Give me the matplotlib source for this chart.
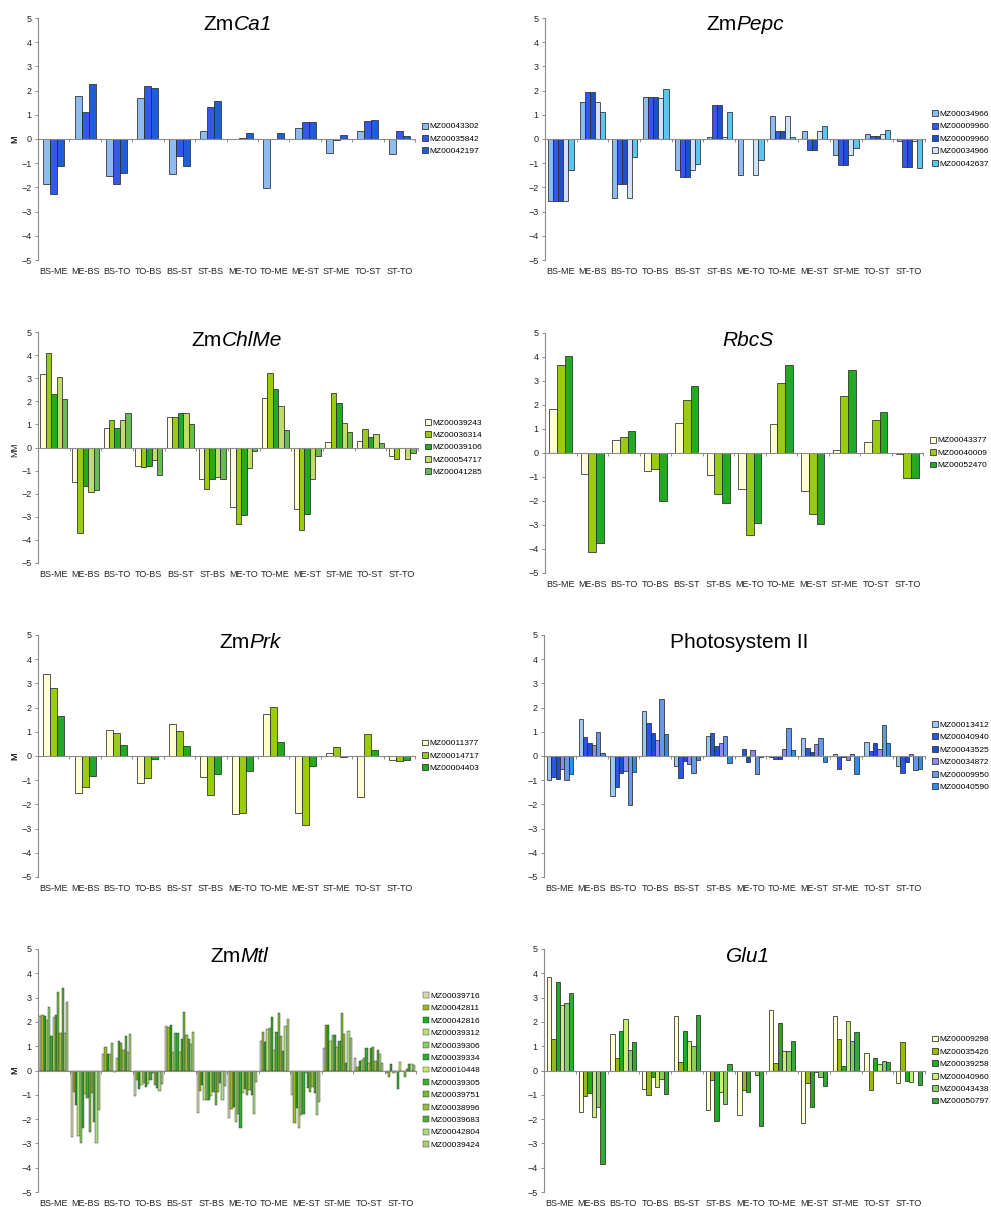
import numpy as np
import matplotlib
matplotlib.use("Agg")
import matplotlib.pyplot as plt
from matplotlib.offsetbox import TextArea, HPacker, AnnotationBbox

plt.rcParams["font.family"] = ["Liberation Sans", "DejaVu Sans"]

categories = ["BS-ME", "ME-BS", "BS-TO", "TO-BS", "BS-ST", "ST-BS",
              "ME-TO", "TO-ME", "ME-ST", "ST-ME", "TO-ST", "ST-TO"]

# ZmCa1
ca1_ids = ["MZ00043302", "MZ00035842", "MZ00042197"]
ca1_values = [
    [-1.86, 1.77, -1.54, 1.70, -1.45, 0.32, 0.02, -2.04, 0.46, -0.58, 0.32, -0.62],
    [-2.28, 1.13, -1.86, 2.21, -0.72, 1.31, 0.04, 0.01, 0.70, -0.05, 0.76, 0.33],
    [-1.13, 2.28, -1.41, 2.11, -1.13, 1.59, 0.26, 0.26, 0.70, 0.18, 0.79, 0.14],
]

# ZmPepc
pepc_ids = ["MZ00034966", "MZ00009960", "MZ00009960", "MZ00034966", "MZ00042637"]
pepc_values = [
    [-2.58, 1.52, -2.44, 1.72, -1.28, 0.10, -1.48, 0.97, 0.34, -0.65, 0.21, -0.10],
    [-2.58, 1.93, -1.86, 1.75, -1.59, 1.42, 0.00, 0.34, -0.46, -1.08, 0.14, -1.17],
    [-2.58, 1.93, -1.86, 1.75, -1.59, 1.42, 0.00, 0.34, -0.46, -1.08, 0.14, -1.17],
    [-2.58, 1.52, -2.44, 1.70, -1.28, 0.10, -1.48, 0.97, 0.34, -0.65, 0.21, -0.10],
    [-1.28, 1.13, -0.76, 2.07, -1.03, 1.10, -0.85, 0.10, 0.52, -0.37, 0.39, -1.20],
]

# ZmChlMe
chlme_ids = ["MZ00039243", "MZ00036314", "MZ00039106", "MZ00054717", "MZ00041285"]
chlme_values = [
    [3.17, -1.51, 0.83, -0.79, 1.31, -1.35, -2.58, 2.13, -2.66, 0.22, 0.26, -0.35],
    [4.07, -3.70, 1.17, -0.85, 1.31, -1.80, -3.31, 3.24, -3.55, 2.37, 0.79, -0.50],
    [2.32, -1.68, 0.83, -0.79, 1.48, -1.35, -2.91, 2.53, -2.88, 1.91, 0.45, 0.00],
    [3.04, -1.94, 1.17, -0.53, 1.51, -1.28, -0.89, 1.81, -1.37, 1.05, 0.58, -0.49],
    [2.09, -1.83, 1.51, -1.18, 1.02, -1.37, -0.14, 0.76, -0.35, 0.69, 0.19, -0.22],
]

# RbcS
rbcs_ids = ["MZ00043377", "MZ00040009", "MZ00052470"]
rbcs_values = [
    [1.85, -0.89, 0.56, -0.76, 1.26, -0.93, -1.51, 1.22, -1.60, 0.14, 0.44, -0.03],
    [3.68, -4.13, 0.67, -0.68, 2.19, -1.72, -3.40, 2.92, -2.53, 2.39, 1.36, -1.04],
    [4.03, -3.75, 0.92, -2.01, 2.78, -2.08, -2.92, 3.68, -2.97, 3.44, 1.71, -1.04],
]

# ZmPrk
prk_ids = ["MZ00011377", "MZ00014717", "MZ00004403"]
prk_values = [
    [3.37, -1.51, 1.07, -1.13, 1.31, -0.85, -2.41, 1.72, -2.37, 0.11, -1.68, -0.17],
    [2.79, -1.27, 0.96, -0.89, 1.03, -1.61, -2.37, 2.01, -2.87, 0.36, 0.91, -0.21],
    [1.66, -0.81, 0.45, -0.14, 0.41, -0.74, -0.61, 0.59, -0.40, -0.04, 0.25, -0.17],
]

# Photosystem II
psii_ids = ["MZ00013412", "MZ00040940", "MZ00043525", "MZ00034872", "MZ00009950", "MZ00040590"]
psii_values = [
    [-0.99, 1.53, -1.65, 1.86, -0.41, 0.83, 0.00, -0.05, 0.73, 0.08, 0.56, -0.41],
    [-0.85, 0.80, -1.29, 1.38, -0.92, 0.94, 0.29, -0.14, 0.34, -0.54, 0.22, -0.72],
    [-0.96, 0.55, -0.69, 0.96, -0.19, 0.43, -0.23, -0.14, 0.18, -0.05, 0.55, -0.23],
    [-0.54, 0.45, -0.61, 0.66, -0.33, 0.55, 0.25, 0.28, 0.48, -0.17, 0.28, 0.08],
    [-0.99, 0.98, -2.02, 2.34, -0.72, 0.83, -0.76, 1.14, 0.73, 0.08, 1.28, -0.58],
    [-0.74, 0.14, -0.65, 0.91, -0.17, -0.28, -0.05, 0.25, -0.26, -0.74, 0.52, -0.54],
]

# ZmMtl (one row per category, 13 probes each)
mtl_ids = ["MZ00039716", "MZ00042811", "MZ00042816", "MZ00039312", "MZ00039306",
           "MZ00039334", "MZ00010448", "MZ00039305", "MZ00039751", "MZ00038996",
           "MZ00039683", "MZ00042804", "MZ00039424"]
mtl_by_category = [
    [2.26, 2.30, 2.23, 2.09, 2.60, 1.40, 2.20, 2.30, 3.22, 1.54, 3.40, 1.54, 2.81],
    [-2.75, -0.87, -1.42, -2.70, -3.00, -2.35, -0.98, -1.15, -2.52, -0.92, -2.12, -3.00, -1.62],
    [0.67, 0.98, 0.67, 0.67, 1.12, -0.05, 0.50, 1.22, 1.12, 0.85, 1.42, 0.75, 1.50],
    [-1.05, -0.40, -0.78, -0.60, -0.50, -0.68, -0.55, -0.40, -0.10, -0.58, -0.70, -0.85, -0.55],
    [1.85, 1.78, 1.88, 0.75, 1.55, 1.55, 0.77, 1.28, 2.40, 1.45, 1.30, 1.10, 1.58],
    [-1.75, -0.85, -0.60, -1.20, -1.20, -1.20, -1.05, -0.90, -1.42, -0.90, -0.50, -1.22, -0.62],
    [-1.95, -1.58, -1.52, -2.10, -1.78, -2.37, -0.94, -0.75, -1.00, -0.82, -1.00, -1.78, -0.48],
    [1.22, 1.60, 1.17, 1.70, 1.75, 2.20, 0.85, 1.58, 2.38, 1.41, 0.82, 1.83, 2.12],
    [-1.00, -2.15, -1.55, -2.37, -1.85, -1.77, -0.10, -0.74, -0.88, -0.68, -0.92, -1.85, -1.28],
    [0.93, 1.86, 1.86, 1.20, 1.46, 1.48, 0.97, 1.23, 2.36, 1.52, 0.30, 1.64, 1.35],
    [0.52, 0.15, 0.40, 0.45, 0.50, 0.94, 0.30, 0.94, 0.95, 0.41, 0.83, 0.67, 0.29],
    [-0.10, -0.28, 0.28, -0.12, -0.05, -0.75, 0.33, -0.02, -0.28, 0.08, 0.28, 0.28, 0.22],
]
mtl_values = np.array(mtl_by_category).T

# Glu1
glu1_ids = ["MZ00009298", "MZ00035426", "MZ00039258", "MZ00040960", "MZ00043438", "MZ00050797"]
glu1_values = [
    [3.84, -1.69, 1.51, -0.77, 2.23, -1.62, -1.83, 2.48, -2.15, 2.26, 0.74, -0.52],
    [1.29, -1.05, 0.51, -1.00, 0.33, -0.41, -0.80, 0.30, -0.50, 1.29, -0.80, 1.18],
    [3.63, -0.94, 1.64, -0.25, 1.61, -2.06, -0.89, 1.95, -1.49, 0.19, 0.51, -0.43],
    [2.70, -1.90, 2.13, -0.69, 1.22, -0.87, 0.00, 0.81, -0.07, 2.02, 0.28, -0.48],
    [2.78, -1.49, 0.85, -0.34, 0.99, -1.38, -0.18, 0.81, -0.25, 1.20, 0.40, 0.00],
    [3.20, -3.85, 1.18, -0.96, 2.30, 0.26, -2.27, 1.22, -0.62, 1.57, 0.33, -0.60],
]

# colours
ca1_colors = ["#8fbcf0", "#3458ee", "#1f5fd6"]
pepc_colors = ["#8fbcf0", "#3458ee", "#1f50cc", "#cfe4fa", "#5cc6ee"]
psii_colors = ["#9cc8f2", "#2a55e8", "#1f4fcc", "#8c8cee", "#6699ee", "#2e8fea"]
chlme_colors = ["#ffffd2", "#99cc11", "#22aa22", "#c0dd66", "#66bb55"]
trio_green = ["#ffffd2", "#99cc11", "#22aa22"]
mtl_colors = ["#d8d8b8", "#99bb22", "#22aa22", "#bbdd77", "#88cc66", "#33aa33", "#cce866",
              "#44aa33", "#77bb33", "#99bb44", "#55aa44", "#aadd88", "#aacc77"]
glu1_colors = ["#ffffd2", "#99bb11", "#22aa22", "#cceb77", "#88cc66", "#33aa33"]

# title = (upright part, italic part)
panels = [
    (("Zm", "Ca1"), ca1_values, ca1_ids, ca1_colors),
    (("Zm", "Pepc"), pepc_values, pepc_ids, pepc_colors),
    (("Zm", "ChlMe"), chlme_values, chlme_ids, chlme_colors),
    (("", "RbcS"), rbcs_values, rbcs_ids, trio_green),
    (("Zm", "Prk"), prk_values, prk_ids, trio_green),
    (("Photosystem II", ""), psii_values, psii_ids, psii_colors),
    (("Zm", "Mtl"), mtl_values, mtl_ids, mtl_colors),
    (("", "Glu1"), glu1_values, glu1_ids, glu1_colors),
]

# layout in pixels: axes box (left, top, right, bottom), title centre, group fill
W, H = 991, 1207
boxes = [(38, 18, 415, 260), (545, 18, 925, 260),
         (38, 332, 418, 563), (545, 333, 923, 573),
         (38, 635, 415, 877), (544, 635, 925, 877),
         (38, 949, 416, 1192), (544, 949, 925, 1192)]
title_pos = [(238, 25), (745, 25), (237, 340), (748, 340),
             (250, 642), (739, 642), (239, 957), (748, 957)]
fills = [0.67, 0.8, 0.85, 0.73, 0.67, 0.82, 0.93, 0.82]

axis_grey = "#8c8c8c"
fs = 6.5
legend_fs = 6
title_fs = 15

fig = plt.figure(figsize=(W / 100, H / 100), dpi=100)
fig.patch.set_facecolor("white")

for (title, values, ids, colors), box, tpos, fill in zip(panels, boxes, title_pos, fills):
    l, t, r, b = box
    ax = fig.add_axes([l / W, 1 - b / H, (r - l) / W, (b - t) / H])
    n = len(values)
    centers = np.arange(len(categories)) + 0.5
    w = fill / n
    lw = 0.3 if n > 10 else 0.55
    for j, (vals, c, lab) in enumerate(zip(values, colors, ids)):
        ax.bar(centers - fill / 2 + w * (j + 0.5), vals, width=w, color=c,
               edgecolor="#2a2a2a", linewidth=lw, label=lab, zorder=2)

    ax.set_xlim(0, len(categories))
    ax.set_ylim(-5, 5)
    ax.set_yticks(range(-5, 6))
    for s in ["top", "right"]:
        ax.spines[s].set_visible(False)
    ax.spines["bottom"].set_position(("data", 0))
    ax.spines["bottom"].set_zorder(3)
    for s in ["left", "bottom"]:
        ax.spines[s].set_color(axis_grey)
        ax.spines[s].set_linewidth(0.8)
    ax.set_xticks(np.arange(len(categories) + 1))
    ax.tick_params(axis="x", labelbottom=False, length=2.5, color=axis_grey, width=0.7)
    ax.tick_params(axis="y", length=2.5, color=axis_grey, width=0.7,
                   labelsize=fs, labelcolor="#222222", pad=2)

    sec = ax.secondary_xaxis(0)
    sec.set_xticks(centers, categories)
    sec.tick_params(length=0, labelsize=fs, labelcolor="#222222", pad=5)
    sec.spines["bottom"].set_visible(False)

    axw = r - l
    ax.set_ylabel("M", fontsize=fs, color="#222222")
    ax.yaxis.set_label_coords(-(l - 19) / axw, 0.5)

    ax.legend(loc="center left", bbox_to_anchor=(1 + 7 / axw, 0.5), frameon=False,
              fontsize=legend_fs, handlelength=0.7, handleheight=0.7, handletextpad=0.15,
              labelspacing=0.55, borderpad=0, borderaxespad=0)

    parts = []
    if title[0]:
        parts.append(TextArea(title[0], textprops=dict(fontsize=title_fs, color="black")))
    if title[1]:
        parts.append(TextArea(title[1], textprops=dict(fontsize=title_fs, color="black",
                                                       fontstyle="italic")))
    packed = HPacker(children=parts, pad=0, sep=0, align="baseline")
    fig.add_artist(AnnotationBbox(packed, (tpos[0] / W, 1 - tpos[1] / H),
                                  xycoords="figure fraction", frameon=False,
                                  box_alignment=(0.5, 0.5), pad=0))

fig.savefig("out.png", dpi=100)
